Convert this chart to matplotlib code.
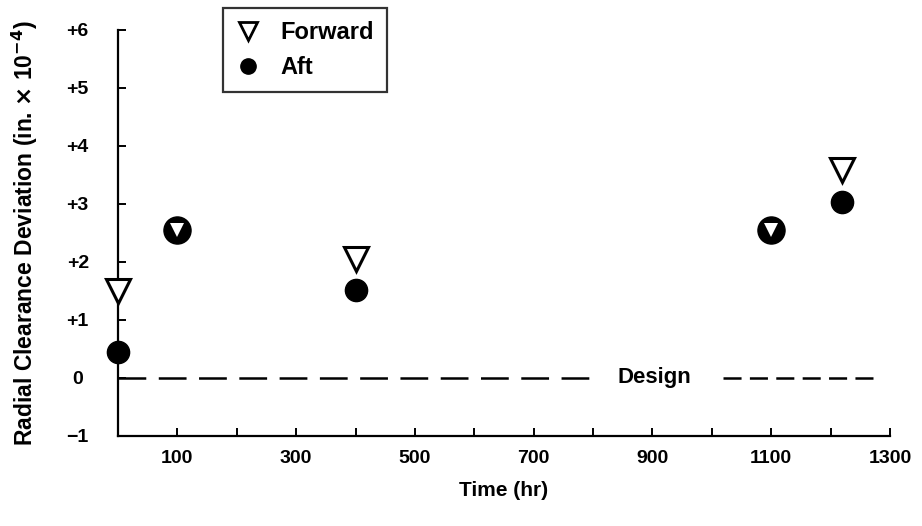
import matplotlib
matplotlib.use('Agg')
import matplotlib.pyplot as plt
from matplotlib.lines import Line2D
import numpy as np

# ---- data ----
time_hr = [0, 100, 400, 1100, 1220]
forward = [1.50, 2.55, 2.05, 2.55, 3.58]
aft = [0.45, 2.55, 1.52, 2.55, 3.04]
design_level = 0.0
design_label = "Design"
x_ticks = list(range(100, 1301, 100))
x_tick_labels = [str(v) if (v // 100) % 2 == 1 else "" for v in x_ticks]
y_ticks = [-1, 0, 1, 2, 3, 4, 5, 6]
y_tick_labels = ["\u22121", "0", "+1", "+2", "+3", "+4", "+5", "+6"]
series_names = ["Forward", "Aft"]

plt.rcParams['font.family'] = ['Liberation Sans', 'DejaVu Sans']
plt.rcParams['font.weight'] = 'bold'
plt.rcParams['axes.labelweight'] = 'bold'
plt.rcParams['mathtext.default'] = 'bf'
plt.rcParams['lines.scale_dashes'] = False

fig = plt.figure(figsize=(9.22, 5.26), dpi=100)
ax = fig.add_axes([118/922, 1-436/526, (890-118)/922, (436-30)/526])

t = np.array(time_hr, float)
f = np.array(forward, float)
a = np.array(aft, float)
same = np.isclose(f, a)

# Design line
ax.plot([0, 798], [design_level]*2, color='black', lw=1.8, dashes=(20, 9), clip_on=False)
ax.plot([1018, 1283], [design_level]*2, color='black', lw=1.8, dashes=(13, 6), clip_on=False)
ax.text(904, design_level, design_label, ha='center', va='center', fontsize=16, fontweight='bold')

# Aft circles
ax.plot(t[~same], a[~same], 'o', ms=16, mfc='black', mec='black', ls='none', clip_on=False, zorder=3)
ax.plot(t[same], a[same], 'o', ms=19.5, mfc='black', mec='black', ls='none', clip_on=False, zorder=3)
# Forward triangles
ax.plot(t[~same], f[~same], 'v', ms=17, mfc='white', mec='black', mew=2.2, ls='none', clip_on=False, zorder=4)
ax.plot(t[same], f[same], 'v', ms=10, mfc='white', mec='white', mew=0, ls='none', clip_on=False, zorder=4)

ax.set_xlim(0, 1300)
ax.set_ylim(-1, 6)
ax.set_xticks(x_ticks)
ax.set_xticklabels(x_tick_labels)
ax.set_yticks(y_ticks)
ax.set_yticklabels(y_tick_labels)
for lab in ax.get_yticklabels():
    lab.set_ha('center')

for s in ['top', 'right']:
    ax.spines[s].set_visible(False)
for s in ['left', 'bottom']:
    ax.spines[s].set_linewidth(1.6)

ax.tick_params(axis='both', direction='in', length=6, width=1.4, labelsize=14)
ax.tick_params(axis='y', pad=29)
ax.tick_params(axis='x', pad=10)

ax.set_xlabel("Time (hr)", fontsize=15, fontweight='bold', labelpad=10)
ax.set_ylabel(r"Radial Clearance Deviation (in. $\times$ 10$^{-4}$)", fontsize=16.5,
              fontweight='bold', labelpad=19)

handles = [
    Line2D([], [], marker='v', ls='none', ms=13, mfc='white', mec='black', mew=2),
    Line2D([], [], marker='o', ls='none', ms=11, mfc='black', mec='black'),
]
leg = fig.legend(handles, series_names, loc='upper left', bbox_to_anchor=(223/922, 1-8/526),
                 frameon=True, fancybox=False, edgecolor='black',
                 prop={'size': 17, 'weight': 'bold'},
                 handlelength=1.0, handletextpad=0.9, labelspacing=0.5, borderpad=0.55,
                 borderaxespad=0)
leg.get_frame().set_linewidth(1.6)

fig.savefig('out.png', dpi=100)
